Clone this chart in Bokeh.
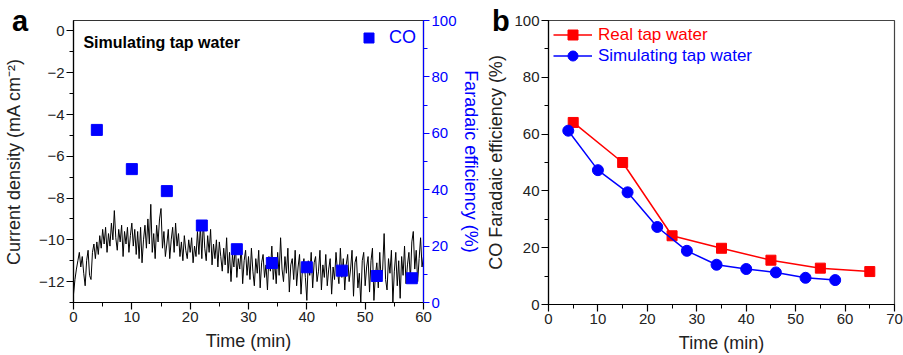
import numpy as np
from bokeh.plotting import figure
from bokeh.layouts import row, column
from bokeh.models import (Range1d, LinearAxis, SingleIntervalTicker, Label, Legend, LegendItem, Div)
from bokeh.embed import file_html
from bokeh.resources import INLINE

# ---------------- data ----------------
# panel a: chronoamperometry trace (mA cm^-2), sampled every 0.25 min from 0 to 60 min
current_density = [
    -12.6, -11.9, -11.4, -11.0, -10.6, -11.3, -10.8, -11.6, -12.2, -11.0, -10.5, -11.7, -11.9, -10.6, -10.2, -10.9, -10.1, -10.7, -9.8, -10.4,
    -9.5, -10.2, -9.4, -10.6, -9.7, -10.3, -9.2, -10.0, -8.6, -9.9, -10.5, -9.5, -10.1, -9.3, -10.8, -9.6, -10.2, -9.4, -10.6, -9.8,
    -9.2, -10.3, -9.5, -10.7, -9.6, -10.9, -9.4, -11.1, -10.0, -9.3, -10.4, -9.0, -10.2, -8.3, -10.6, -9.7, -10.9, -9.3, -10.1, -9.0,
    -8.5, -10.4, -9.6, -10.8, -10.2, -9.5, -10.9, -10.0, -9.4, -10.6, -9.2, -10.3, -9.7, -10.8, -10.1, -11.0, -9.8, -10.5, -10.9, -10.0,
    -10.6, -9.9, -11.1, -10.3, -10.8, -9.6, -10.7, -9.3, -10.9, -9.1, -10.4, -11.0, -9.8, -10.6, -9.5, -11.2, -10.2, -10.9, -10.0, -11.3,
    -10.1, -10.8, -11.5, -10.4, -11.2, -9.9, -11.6, -10.6, -12.0, -10.7, -11.3, -10.2, -11.8, -10.9, -11.4, -10.3, -12.1, -11.0, -10.5, -11.7,
    -10.8, -11.9, -10.4, -11.5, -12.2, -10.9, -11.6, -10.5, -12.3, -11.1, -10.7, -11.8, -11.2, -12.4, -10.8, -11.5, -10.3, -11.9, -11.0, -12.1,
    -10.6, -11.7, -9.9, -11.4, -12.0, -10.8, -11.6, -10.4, -12.5, -11.2, -10.9, -11.9, -10.5, -12.2, -11.3, -10.7, -12.6, -11.4, -10.9, -11.8,
    -12.9, -11.0, -11.7, -10.6, -12.3, -11.1, -10.8, -12.0, -11.5, -10.5, -12.4, -11.2, -11.8, -10.7, -12.2, -11.4, -10.9, -12.6, -11.3, -11.9,
    -10.6, -11.5, -12.1, -10.4, -11.8, -10.9, -12.4, -11.2, -10.7, -12.0, -11.4, -10.5, -12.7, -11.1, -10.8, -12.3, -11.6, -13.0, -11.0, -10.6,
    -12.2, -11.3, -10.8, -12.5, -11.0, -10.4, -12.9, -11.7, -11.1, -12.3, -10.6, -12.0, -11.4, -9.7, -11.9, -12.4, -10.9, -11.6, -10.5, -13.0,
    -11.5, -10.6, -12.2, -11.0, -12.8, -10.8, -11.7, -10.3, -12.1, -11.2, -10.6, -11.9, -10.1, -9.6, -11.4, -10.5, -12.0, -10.9, -9.9, -11.3,
    -10.8,
]
trace_time = np.linspace(0, 60, len(current_density))

# CO Faradaic efficiency, simulating tap water (panel a and b)
sim_time = [4, 10, 16, 22, 28, 34, 40, 46, 52, 58]
sim_fe = [61.2, 47.3, 39.5, 27.3, 18.9, 14.0, 12.5, 11.3, 9.4, 8.6]

# CO Faradaic efficiency, real tap water (panel b)
real_time = [5, 15, 25, 35, 45, 55, 65]
real_fe = [64.1, 50.0, 24.2, 19.8, 15.6, 12.8, 11.6]

panel_letters = ["a", "b"]

FONT = "Liberation Sans"
BLUE = "#0000FF"
RED = "#FF0000"


def style_axis(ax, color="black"):
    ax.axis_line_color = color
    ax.major_tick_line_color = color
    ax.minor_tick_line_color = color
    ax.major_tick_out = 7
    ax.major_tick_in = 0
    ax.minor_tick_out = 4
    ax.minor_tick_in = 0
    ax.major_label_standoff = 2
    ax.major_label_text_font = FONT
    ax.major_label_text_font_size = "15px"
    ax.major_label_text_color = "#222222" if color == "black" else color
    ax.axis_label_text_font = FONT
    ax.axis_label_text_font_size = "18px"
    ax.axis_label_text_font_style = "normal"
    ax.axis_label_text_color = "#222222" if color == "black" else color
    ax.axis_line_width = 1.2
    ax.major_tick_line_width = 1.2


# ---------------- panel a ----------------
pa = figure(frame_width=350, frame_height=282, min_border_left=73, min_border_right=57,
            min_border_top=20, min_border_bottom=53,
            x_range=Range1d(0, 60), y_range=Range1d(-13, 0.5),
            output_backend="svg", toolbar_location=None)
pa.extra_y_ranges = {"fe": Range1d(0, 100)}
pa.grid.visible = False
pa.outline_line_color = "#333333"
pa.outline_line_width = 1.2
pa.background_fill_color = None
pa.border_fill_color = "white"

pa.xaxis.ticker = SingleIntervalTicker(interval=10, num_minor_ticks=2)
pa.yaxis.ticker = SingleIntervalTicker(interval=2, num_minor_ticks=2)
pa.xaxis.axis_label = "Time (min)"
pa.yaxis.axis_label = "Current density (mA cm\u207b\u00b2)"
style_axis(pa.xaxis[0])
style_axis(pa.yaxis[0])
pa.xaxis.axis_label_standoff = 6
pa.yaxis.axis_label_standoff = 12

rax = LinearAxis(y_range_name="fe", ticker=SingleIntervalTicker(interval=20, num_minor_ticks=2),
                 axis_label="Faradaic efficiency (%)")
style_axis(rax, BLUE)
rax.major_tick_out = 6
rax.axis_label_standoff = 1
pa.add_layout(rax, "right")

pa.line(trace_time, current_density, line_color="black", line_width=1)
co = pa.scatter(sim_time, sim_fe, y_range_name="fe", marker="square", size=11,
                fill_color=BLUE, line_color=BLUE)

leg_a = Legend(items=[LegendItem(label="CO", renderers=[co])],
               location=(283, 252), glyph_width=25, glyph_height=25, label_height=25,
               label_standoff=8, padding=0, margin=0, border_line_color=None,
               background_fill_alpha=0, label_text_color=BLUE, label_text_font=FONT,
               label_text_font_size="18px")
pa.add_layout(leg_a, "center")

pa.add_layout(Label(x=1.7, y=-0.57, text="Simulating tap water", text_font=FONT,
                    text_font_size="16px", text_font_style="bold", text_color="black",
                    text_baseline="alphabetic"))

# ---------------- panel b ----------------
pb = figure(frame_width=346, frame_height=284, min_border_left=64, min_border_right=13,
            min_border_top=19, min_border_bottom=52,
            x_range=Range1d(0, 70), y_range=Range1d(0, 100),
            output_backend="svg", toolbar_location=None)
pb.grid.visible = False
pb.outline_line_color = "#444444"
pb.outline_line_width = 1.2
pb.background_fill_color = None
pb.xaxis.ticker = SingleIntervalTicker(interval=10, num_minor_ticks=2)
pb.yaxis.ticker = SingleIntervalTicker(interval=20, num_minor_ticks=2)
pb.xaxis.axis_label = "Time (min)"
pb.yaxis.axis_label = "CO Faradaic efficiency (%)"
style_axis(pb.xaxis[0])
style_axis(pb.yaxis[0])
pb.xaxis.axis_label_standoff = 6
pb.yaxis.axis_label_standoff = 5

rl = pb.line(real_time, real_fe, line_color=RED, line_width=1.5)
rs = pb.scatter(real_time, real_fe, marker="square", size=10, fill_color=RED, line_color=RED)
sl = pb.line(sim_time, sim_fe, line_color=BLUE, line_width=1.5)
ss = pb.scatter(sim_time, sim_fe, marker="circle", size=11, fill_color=BLUE, line_color=BLUE)

for lbl, rends, col, yloc in [("Real tap water", [rl, rs], RED, 257),
                              ("Simulating tap water", [sl, ss], BLUE, 236)]:
    lg = Legend(items=[LegendItem(label=lbl, renderers=rends)], location=(5, yloc),
                glyph_width=39, glyph_height=25, label_height=25, label_standoff=6,
                padding=0, margin=0, border_line_color=None, background_fill_alpha=0,
                label_text_color=col, label_text_font=FONT, label_text_font_size="17px")
    pb.add_layout(lg, "center")

# panel letters as an overlay (zero-size, zero-margin) above the two figures
letter_style = ("position:absolute;top:7px;font-family:'Liberation Sans',Arial,sans-serif;"
                "font-weight:bold;font-size:29px;line-height:1;color:black;margin:0;")
letters_html = (
    f'<div style="{letter_style}left:12px;">{panel_letters[0]}</div>'
    f'<div style="{letter_style}left:492px;">{panel_letters[1]}</div>'
)
letters = Div(text=letters_html, width=903, height=0, margin=0,
              styles={"position": "relative", "z-index": "10", "overflow": "visible"})

layout = column(letters, row(pa, pb), spacing=0)
open("out.html", "w").write(file_html(layout, INLINE))
